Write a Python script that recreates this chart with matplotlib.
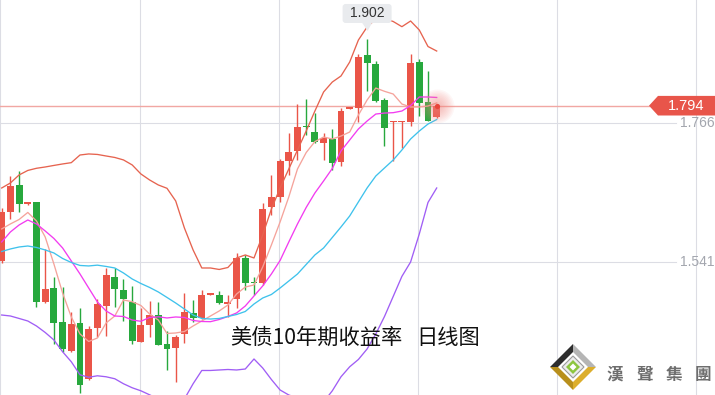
import matplotlib
matplotlib.use("Agg")
import matplotlib.pyplot as plt
import matplotlib.transforms as mtransforms
from matplotlib.patches import Rectangle, Polygon, FancyBboxPatch
import numpy as np

# ---------------- data ----------------
open_ = [1.5427, 1.6225, 1.6656, 1.6349, 1.6377, 1.4767, 1.4994, 1.4439, 1.3970, 1.4423,
         1.3511, 1.4347, 1.4703, 1.5168, 1.4957, 1.4763, 1.4120, 1.4395, 1.4547, 1.4083,
         1.4023, 1.4240, 1.4585, 1.4499, 1.4881, 1.4876, 1.4730, 1.4807, 1.5480, 1.5087,
         1.5066, 1.6293, 1.6467, 1.7049, 1.7211, 1.7607, 1.7519, 1.7331, 1.7396, 1.7033,
         1.7891, 1.7898, 1.8760, 1.8615, 1.8032, 1.7676, 1.7676, 1.7681, 1.8647, 1.7995,
         1.7749]
high = [1.6280, 1.6802, 1.6883, 1.6386, 1.6386, 1.5613, 1.5172, 1.5011, 1.4596, 1.4666,
        1.4374, 1.4803, 1.5313, 1.5305, 1.5135, 1.5022, 1.4661, 1.4779, 1.4767, 1.4298,
        1.4229, 1.4914, 1.4795, 1.4957, 1.4900, 1.4941, 1.4871, 1.5561, 1.5524, 1.5172,
        1.6361, 1.6818, 1.7077, 1.7493, 1.7967, 1.8048, 1.7817, 1.7493, 1.7563, 1.7898,
        1.7906, 1.8777, 1.9020, 1.8668, 1.8060, 1.7700, 1.7692, 1.8772, 1.8696, 1.8501,
        1.7960]
low = [1.5394, 1.6106, 1.6225, 1.6333, 1.4687, 1.4746, 1.4078, 1.3958, 1.3948, 1.3295,
       1.3500, 1.4196, 1.4212, 1.4674, 1.4460, 1.4078, 1.4110, 1.4191, 1.4059, 1.3662,
       1.3473, 1.4104, 1.4444, 1.4483, 1.4876, 1.4725, 1.4525, 1.4661, 1.4957, 1.4876,
       1.5038, 1.6171, 1.6386, 1.6818, 1.7061, 1.7465, 1.7331, 1.7061, 1.6899, 1.6964,
       1.7883, 1.7681, 1.8183, 1.8004, 1.7292, 1.7049, 1.7250, 1.7611, 1.7773, 1.7687,
       1.7740]
close = [1.6225, 1.6640, 1.6344, 1.6377, 1.4767, 1.4969, 1.4428, 1.4002, 1.4411, 1.3424,
         1.4326, 1.4722, 1.5200, 1.4978, 1.4816, 1.4136, 1.4390, 1.4557, 1.4067, 1.4007,
         1.4196, 1.4596, 1.4499, 1.4876, 1.4892, 1.4742, 1.4767, 1.5480, 1.5075, 1.5071,
         1.6264, 1.6463, 1.7049, 1.7195, 1.7600, 1.7595, 1.7347, 1.7412, 1.7017, 1.7854,
         1.7898, 1.8723, 1.8636, 1.8021, 1.7584, 1.7681, 1.7681, 1.8626, 1.7988, 1.7697,
         1.7940]

ma5 = [1.5945, 1.6026, 1.6098, 1.6212, 1.6074, 1.5815, 1.5378, 1.4908, 1.4520, 1.4245,
       1.4123, 1.4180, 1.4423, 1.4536, 1.4795, 1.4767, 1.4706, 1.4568, 1.4471, 1.4253,
       1.4261, 1.4285, 1.4374, 1.4455, 1.4536, 1.4617, 1.4714, 1.4892, 1.5005, 1.5038,
       1.5329, 1.5686, 1.6058, 1.6463, 1.6916, 1.7182, 1.7359, 1.7433, 1.7401, 1.7449,
       1.7514, 1.7789, 1.8032, 1.8226, 1.8173, 1.8129, 1.7967, 1.7919, 1.7919, 1.7935,
       1.7984]
ma10 = [1.5734, 1.5896, 1.6009, 1.6090, 1.6026, 1.5912, 1.5791, 1.5637, 1.5427, 1.5216,
        1.4989, 1.4763, 1.4617, 1.4536, 1.4528, 1.4471, 1.4450, 1.4512, 1.4523, 1.4504,
        1.4520, 1.4512, 1.4463, 1.4447, 1.4444, 1.4479, 1.4528, 1.4585, 1.4698, 1.4860,
        1.5022, 1.5216, 1.5435, 1.5734, 1.6026, 1.6293, 1.6527, 1.6722, 1.6924, 1.7207,
        1.7385, 1.7563, 1.7692, 1.7805, 1.7821, 1.7827, 1.7854, 1.7943, 1.8081, 1.8081,
        1.8073]
boll_up = [1.6608, 1.6689, 1.6819, 1.6892, 1.6927, 1.6948, 1.6973, 1.6997, 1.7018, 1.7142,
           1.7159, 1.7151, 1.7126, 1.7102, 1.7062, 1.6981, 1.6835, 1.6738, 1.6657, 1.6603,
           1.6398, 1.5961, 1.5605, 1.5313, 1.5313, 1.5289, 1.5321, 1.5475, 1.5524, 1.5475,
           1.5847, 1.6268, 1.6608, 1.6916, 1.7223, 1.7530, 1.7854, 1.8162, 1.8323, 1.8421,
           1.8647, 1.9003, 1.9214, 1.9343, 1.9351, 1.9303, 1.9219, 1.9311, 1.9165, 1.8898,
           1.8825]
boll_mid = [1.5580, 1.5621, 1.5653, 1.5669, 1.5645, 1.5605, 1.5556, 1.5467, 1.5402, 1.5354,
            1.5346, 1.5359, 1.5338, 1.5313, 1.5232, 1.5135, 1.5062, 1.4998, 1.4925, 1.4836,
            1.4746, 1.4649, 1.4552, 1.4496, 1.4487, 1.4496, 1.4528, 1.4560, 1.4609, 1.4730,
            1.4827, 1.4884, 1.4989, 1.5102, 1.5216, 1.5370, 1.5524, 1.5637, 1.5807, 1.5977,
            1.6155, 1.6382, 1.6608, 1.6802, 1.6932, 1.7061, 1.7223, 1.7401, 1.7530, 1.7643,
            1.7716]
boll_low = [1.4552, 1.4536, 1.4496, 1.4455, 1.4374, 1.4269, 1.4148, 1.3957, 1.3795, 1.3584,
            1.3544, 1.3568, 1.3552, 1.3520, 1.3439, 1.3374, 1.3325, 1.3260, 1.3192, 1.3111,
            1.3095, 1.3192, 1.3439, 1.3654, 1.3654, 1.3662, 1.3670, 1.3662, 1.3678, 1.3840,
            1.3694, 1.3508, 1.3338, 1.3257, 1.3209, 1.3192, 1.3160, 1.3144, 1.3325, 1.3552,
            1.3714, 1.3832, 1.4002, 1.4245, 1.4528, 1.4852, 1.5177, 1.5410, 1.5864, 1.6374,
            1.6608]

last_price = 1.794
peak_value = 1.902
axis_ticks = [1.766, 1.541]
title_main = "美债10年期收益率"
title_sub = "日线图"
logo_chars = ["漢", "聲", "集", "團"]

# ---------------- style ----------------
RED = "#ea5548"
GREEN = "#27a83d"
W, H = 715, 395

fig = plt.figure(figsize=(W / 100, H / 100), dpi=100)
fig.patch.set_facecolor("white")
ax = fig.add_axes([0, 0, 1, 1])
ax.set_facecolor("white")
px_per_bar = 8.7
x0 = -0.195
ax.set_xlim(x0, x0 + W / px_per_bar)
ax.set_ylim(1.3257, 1.9651)
for s in ax.spines.values():
    s.set_visible(False)
ax.tick_params(length=0, labelbottom=False, labelleft=False)
ax.set_yticks([])
ax.set_xticks(np.arange(-0.15, 80, 16))
ax.grid(axis="x", color="#dcdde4", lw=0.8, zorder=0)
ax.set_axisbelow(True)

num_font = "Liberation Sans"
blend = mtransforms.blended_transform_factory(ax.transAxes, ax.transData)

# horizontal reference grid + price labels
for t in axis_ticks:
    ax.axhline(t, xmin=0, xmax=676 / W, color="#dcdde4", lw=0.8, zorder=0.5)
    ax.text(0.999, t, f"{t:.3f}", transform=blend, ha="right", va="center",
            color="#a3a6ae", fontsize=10, family=num_font)

# current price line
ax.axhline(last_price, xmin=0, xmax=649 / W, color="#f1a7a3", lw=1.0, zorder=1)

# candles
x = np.arange(len(close))
bw = 0.8
min_h = 0.0022
for i in range(len(close)):
    o, c, h, l = open_[i], close[i], high[i], low[i]
    col = RED if c >= o else GREEN
    ax.vlines(x[i], l, h, color=col, lw=1.0, zorder=2)
    bottom = min(o, c)
    height = max(abs(c - o), min_h)
    ax.add_patch(Rectangle((x[i] - bw / 2, bottom), bw, height, facecolor=col,
                           edgecolor="none", zorder=2.5))

# indicator lines
lw = 0.95
ax.plot(x, boll_up, color="#e6634f", lw=lw, zorder=3)
ax.plot(x, ma5, color="#f5a39b", lw=lw, zorder=3)
ax.plot(x, ma10, color="#f23cf0", lw=lw, zorder=3)
ax.plot(x, boll_mid, color="#3fc2ec", lw=lw, zorder=3)
ax.plot(x, boll_low, color="#a05ef5", lw=lw, zorder=3)

# glow on the last price
for r in np.linspace(17, 3, 10):
    ax.scatter([x[-1]], [last_price], s=(2 * r * 0.72) ** 2, color="#f28a84",
               alpha=0.07, lw=0, zorder=4)
ax.scatter([x[-1]], [last_price], s=14, color="#e8443a", lw=0, zorder=5)

# price tag on the right
ident = mtransforms.IdentityTransform()
fig.canvas.draw()
_, py = ax.transData.transform((0, last_price))
half = 9.8
tag = Polygon([(649, py), (658, py + half), (W, py + half), (W, py - half), (658, py - half)],
              closed=True, facecolor="#e8554a", edgecolor="none", transform=ident, zorder=6)
fig.add_artist(tag)
fig.text(686.5 / W, py / H, f"{last_price:.3f}", ha="center", va="center", color="white",
         fontsize=10.5, family=num_font, zorder=7)

# peak tooltip
peak_idx = int(np.argmax(high))
ppx, ppy = ax.transData.transform((x[peak_idx], peak_value))
box = FancyBboxPatch((ppx - 24.5, ppy + 16), 49, 19,
                     boxstyle="round,pad=0,rounding_size=3",
                     facecolor="#e9ebee", edgecolor="none", transform=ident, zorder=6)
fig.add_artist(box)
fig.add_artist(Polygon([(ppx - 5, ppy + 16.2), (ppx + 5, ppy + 16.2), (ppx + 0.5, ppy + 8)],
                       closed=True, facecolor="#e9ebee", edgecolor="none",
                       transform=ident, zorder=6))
fig.text(ppx / W, (ppy + 25.5) / H, f"{peak_value:.3f}", ha="center", va="center",
         color="#333333", fontsize=10, family=num_font, zorder=7)

# title
tfam = ["Noto Sans CJK SC", "DejaVu Sans"]
fig.text(230 / W, (H - 338) / H, title_main, ha="left", va="center", fontsize=15.3,
         family=tfam, color="#111111", zorder=8)
fig.text(416 / W, (H - 338) / H, title_sub, ha="left", va="center", fontsize=15.3,
         family=tfam, color="#111111", zorder=8)

# logo (decoration)
cx, cy, R = 573, H - 367, 23
def diamond(r, **kw):
    return Polygon([(cx, cy + r), (cx + r, cy), (cx, cy - r), (cx - r, cy)], closed=True,
                   transform=ident, **kw)
tri = [((cx - R, cy), (cx, cy + R), "#2e2e2e"), ((cx, cy + R), (cx + R, cy), "#b5b5b5"),
       ((cx + R, cy), (cx, cy - R), "#dcae2c"), ((cx, cy - R), (cx - R, cy), "#b88f1c")]
for a, b, colr in tri:
    fig.add_artist(Polygon([(cx, cy), a, b], closed=True, facecolor=colr, edgecolor="none",
                           transform=ident, zorder=6))
fig.add_artist(diamond(15, facecolor="white", edgecolor="none", zorder=6.1))
fig.add_artist(diamond(11, facecolor="#ececec", edgecolor="#9a9a9a", lw=0.8, zorder=6.2))
fig.add_artist(diamond(7, facecolor="#8dc63f", edgecolor="none", zorder=6.3))
fig.add_artist(diamond(3.5, facecolor="white", edgecolor="none", zorder=6.4))
for k, ch in enumerate(logo_chars):
    fig.text((615 + 29.3 * k) / W, (H - 375) / H, ch, ha="center", va="center",
             fontsize=12, color="#6e6e6e", family=["Noto Sans CJK TC", "DejaVu Sans"],
             fontweight="bold", zorder=7)

fig.savefig("out.png", dpi=100, facecolor="white")
